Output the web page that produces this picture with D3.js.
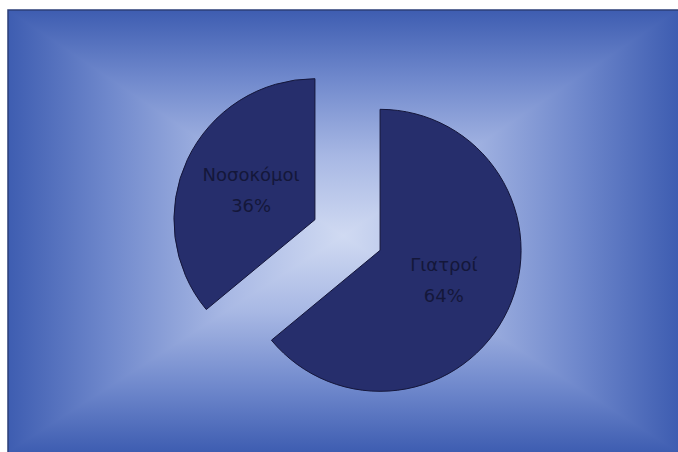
<!DOCTYPE html>
<html><head><meta charset="utf-8">
<script src="https://cdn.jsdelivr.net/npm/d3@7"></script>
<style>html,body{margin:0;padding:0;background:#fff;}svg{display:block;}</style>
</head><body>
<svg id="chart" width="678" height="452"></svg>
<script>
const categories = ["Γιατροί", "Νοσοκόμοι"];
const values = [64, 36];
const percentLabels = ["64%", "36%"];

const W = 678, H = 452;
const svg = d3.select("#chart");
const defs = svg.append("defs");

// panel with rectangular "from center" gradient
const px0 = 8, py0 = 10, px1 = W, py1 = H;
const cx = (px0 + px1) / 2, cy = 236;
const stops = [[0, "#d0daf2"], [0.35, "#a8b8e4"], [0.7, "#6f88cc"], [1, "#3e5db1"]];
function grad(id, x1, y1, x2, y2, mirror) {
  const g = defs.append("linearGradient").attr("id", id)
    .attr("gradientUnits", "userSpaceOnUse")
    .attr("x1", x1).attr("y1", y1).attr("x2", x2).attr("y2", y2);
  if (mirror) {
    stops.slice().reverse().forEach(s => g.append("stop").attr("offset", (1 - s[0]) / 2).attr("stop-color", s[1]));
    stops.forEach(s => g.append("stop").attr("offset", 0.5 + s[0] / 2).attr("stop-color", s[1]));
  } else {
    stops.forEach(s => g.append("stop").attr("offset", s[0]).attr("stop-color", s[1]));
  }
}
grad("gH", px0, cy, px1, cy, true);
grad("gTop", cx, cy, cx, py0);
grad("gBot", cx, cy, cx, py1);
const bg = svg.append("g");
bg.append("rect").attr("x", px0).attr("y", py0).attr("width", px1 - px0).attr("height", py1 - py0).attr("fill", "url(#gH)");
bg.append("path").attr("d", `M${cx},${cy}L${px0},${py0}L${px1},${py0}Z`).attr("fill", "url(#gTop)");
bg.append("path").attr("d", `M${cx},${cy}L${px0},${py1}L${px1},${py1}Z`).attr("fill", "url(#gBot)");
// panel border top & left
svg.append("path").attr("d", `M${px0},${py1}L${px0},${py0}L${px1},${py0}`)
  .attr("fill", "none").attr("stroke", "#2c3f78").attr("stroke-width", 1.5);

// pie
const R = 141, explode = 36;
const pcx = 347.5, pcy = 235;
const pie = d3.pie().sort(null).value(d => d)(values);
const arc = d3.arc().innerRadius(0).outerRadius(R);
const labelArc = d3.arc().innerRadius(R * 0.5).outerRadius(R * 0.5);

const g = svg.append("g").attr("transform", `translate(${pcx},${pcy})`);
const slices = g.selectAll("g.slice").data(pie).enter().append("g").attr("class", "slice")
  .attr("transform", d => {
    const a = (d.startAngle + d.endAngle) / 2;
    return `translate(${explode * Math.sin(a)},${-explode * Math.cos(a)})`;
  });
slices.append("path").attr("d", arc).attr("fill", "#262e6c").attr("stroke", "#14163a").attr("stroke-width", 1);
const txt = slices.append("text")
  .attr("transform", d => `translate(${labelArc.centroid(d)})`)
  .attr("text-anchor", "middle")
  .attr("font-family", "DejaVu Sans, sans-serif")
  .attr("font-size", 18).attr("fill", "#14173a");
txt.append("tspan").attr("x", 0).attr("y", -9).text((d, i) => categories[i]);
txt.append("tspan").attr("x", 0).attr("y", 22).text((d, i) => percentLabels[i]);
</script>
</body></html>
